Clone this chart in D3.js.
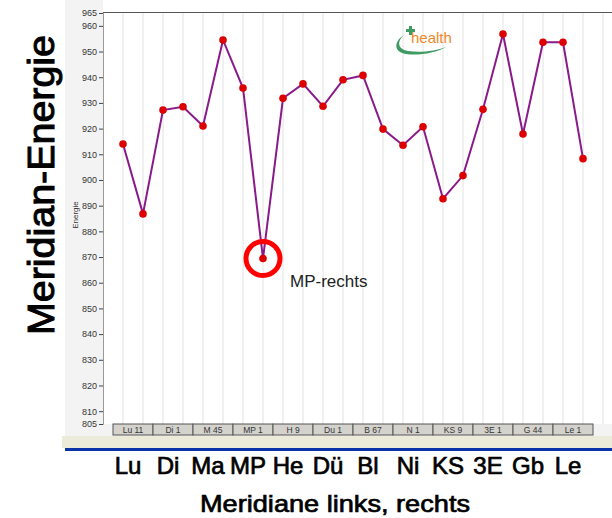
<!DOCTYPE html>
<html>
<head>
<meta charset="utf-8">
<script src="https://cdn.jsdelivr.net/npm/d3@7"></script>
<style>
  body { margin: 0; background: #fff; }
  svg { display: block; font-family: "Liberation Sans", Arial, sans-serif; }
</style>
</head>
<body>
<svg width="612" height="518"></svg>
<script>
// meridians, left and right measurement per meridian
const meridians = ["Lu", "Di", "Ma", "MP", "He", "Dü", "Bl", "Ni", "KS", "3E", "Gb", "Le"];
const boxLabels = ["Lu 11", "Di 1", "M 45", "MP 1", "H 9", "Du 1", "B 67", "N 1", "KS 9", "3E 1", "G 44", "Le 1"];
const links  = [914, 927.2, 921, 935.8, 931.8, 928.7, 940.7, 913.5, 892.7, 927.5, 917.9, 953.6];
const rechts = [886.8, 928.5, 954.5, 869.4, 937.4, 939, 919.8, 920.7, 901.7, 956.8, 953.6, 908.3];
const yTicks = [805, 810, 820, 830, 840, 850, 860, 870, 880, 890, 900, 910, 920, 930, 940, 950, 960, 965];

// flatten into the plotted sequence L,R,L,R...
let values = [];
meridians.forEach(function(m, i) {
  values.push({ m: m, side: "links", v: links[i] });
  values.push({ m: m, side: "rechts", v: rechts[i] });
});

const svg = d3.select("svg");
const mLeft = 103, mRight = 603, mTop = 13, mBottom = 424;

const x = d3.scaleLinear().domain([0, values.length + 1]).range([mLeft, mRight]);
const y = d3.scaleLinear().domain([805, 965]).range([mBottom, mTop]);

// grey panels
svg.append("rect").attr("x", 65).attr("y", 0).attr("width", mLeft - 65).attr("height", 436).attr("fill", "#f3f3f3");
svg.append("rect").attr("x", 65).attr("y", mBottom).attr("width", 612 - 65).attr("height", 12).attr("fill", "#f3f3f3");
svg.append("rect").attr("x", mLeft).attr("y", 0).attr("width", 612 - mLeft).attr("height", mBottom).attr("fill", "#fff");
svg.append("rect").attr("x", 62).attr("y", 436).attr("width", 550).attr("height", 12).attr("fill", "#ecead9");
svg.append("rect").attr("x", 65).attr("y", 448).attr("width", 547).attr("height", 3).attr("fill", "#0a33a8");

// vertical grid
svg.append("g")
  .selectAll("line")
  .data(d3.range(1, values.length + 2))
  .enter().append("line")
    .attr("x1", function(d) { return x(d); })
    .attr("x2", function(d) { return x(d); })
    .attr("y1", mTop)
    .attr("y2", mBottom)
    .attr("stroke", "#e2e2e2")
    .attr("stroke-width", 1);

// top frame
svg.append("line")
  .attr("x1", mLeft).attr("x2", 612).attr("y1", mTop - 0.5).attr("y2", mTop - 0.5)
  .attr("stroke", "#555").attr("stroke-width", 1);

// y axis
const yAxis = d3.axisLeft(y).tickValues(yTicks).tickSize(4).tickPadding(2);
const ga = svg.append("g").attr("transform", "translate(" + mLeft + ",0)").call(yAxis);
ga.select(".domain").attr("stroke", "#999");
ga.selectAll(".tick line").attr("stroke", "#444");
ga.selectAll("text").attr("font-size", 9).attr("fill", "#333").attr("font-family", "Liberation Sans");

// small axis caption
svg.append("text")
  .attr("transform", "translate(78,215) rotate(-90)")
  .attr("text-anchor", "middle")
  .attr("font-size", 8)
  .attr("fill", "#333")
  .text("Energie");

// meridian boxes
const boxW = (x(2) - x(0));
const boxes = svg.append("g").selectAll("g")
  .data(boxLabels)
  .enter().append("g")
    .attr("transform", function(d, i) { return "translate(" + (x(2 * i + 1.5) - boxW / 2) + "," + mBottom + ")"; });
boxes.append("rect")
  .attr("width", boxW).attr("height", 11)
  .attr("fill", "#d4d2cd").attr("stroke", "#555").attr("stroke-width", 1);
boxes.append("text")
  .attr("x", boxW / 2).attr("y", 9)
  .attr("text-anchor", "middle")
  .attr("font-size", 8.5)
  .attr("fill", "#333")
  .text(function(d) { return d; });

// line + points
const line = d3.line()
  .x(function(d, i) { return x(i + 1); })
  .y(function(d) { return y(d.v); });

svg.append("path")
  .datum(values)
  .attr("d", line)
  .attr("fill", "none")
  .attr("stroke", "#8a1a8a")
  .attr("stroke-width", 2);

svg.append("g").selectAll("circle")
  .data(values)
  .enter().append("circle")
    .attr("cx", function(d, i) { return x(i + 1); })
    .attr("cy", function(d) { return y(d.v); })
    .attr("r", 3.8)
    .attr("fill", "#dd0000");

// highlight MP-rechts
const mpIdx = values.findIndex(function(d) { return d.m === "MP" && d.side === "rechts"; });
svg.append("circle")
  .attr("cx", x(mpIdx + 1))
  .attr("cy", y(values[mpIdx].v))
  .attr("r", 17)
  .attr("fill", "none")
  .attr("stroke", "#ff0000")
  .attr("stroke-width", 5);
svg.append("text")
  .attr("x", x(mpIdx + 1) + 27)
  .attr("y", y(values[mpIdx].v) + 28)
  .attr("font-size", 17)
  .attr("fill", "#222")
  .text("MP-rechts");

// logo
const logo = svg.append("g").attr("transform", "translate(396,26)");
logo.append("path")
  .attr("d", "M8,9 C1,15 1,23 12,25 C24,27 40,25 50,21 C40,27 22,30 10,28 C-3,26 -2,15 8,9 Z")
  .attr("fill", "#3f9b63");
logo.append("path")
  .attr("d", "M13,0 h3 v3 h3 v3 h-3 v3 h-3 v-3 h-3 v-3 h3 Z")
  .attr("fill", "#3f9b63");
logo.append("text")
  .attr("x", 15).attr("y", 17)
  .attr("font-size", 15)
  .attr("fill", "#f0882a")
  .text("health");

// big labels (heavy-ish regular, like the scaled screenshot text)
svg.append("g").selectAll("text")
  .data(meridians)
  .enter().append("text")
    .attr("x", function(d, i) { return x(2 * i + 1.5) - 5; })
    .attr("y", 474)
    .attr("text-anchor", "middle")
    .attr("font-size", 24)
    .attr("fill", "#000")
    .attr("stroke", "#000")
    .attr("stroke-width", 0.7)
    .text(function(d) { return d; });

svg.append("text")
  .attr("x", 200).attr("y", 512)
  .attr("font-size", 24)
  .attr("textLength", 270)
  .attr("lengthAdjust", "spacingAndGlyphs")
  .attr("fill", "#000")
  .attr("stroke", "#000")
  .attr("stroke-width", 0.7)
  .text("Meridiane links, rechts");

svg.append("text")
  .attr("transform", "translate(54,335) rotate(-90)")
  .attr("font-size", 37)
  .attr("textLength", 300)
  .attr("lengthAdjust", "spacingAndGlyphs")
  .attr("fill", "#000")
  .attr("stroke", "#000")
  .attr("stroke-width", 1)
  .text("Meridian-Energie");
</script>
</body>
</html>
